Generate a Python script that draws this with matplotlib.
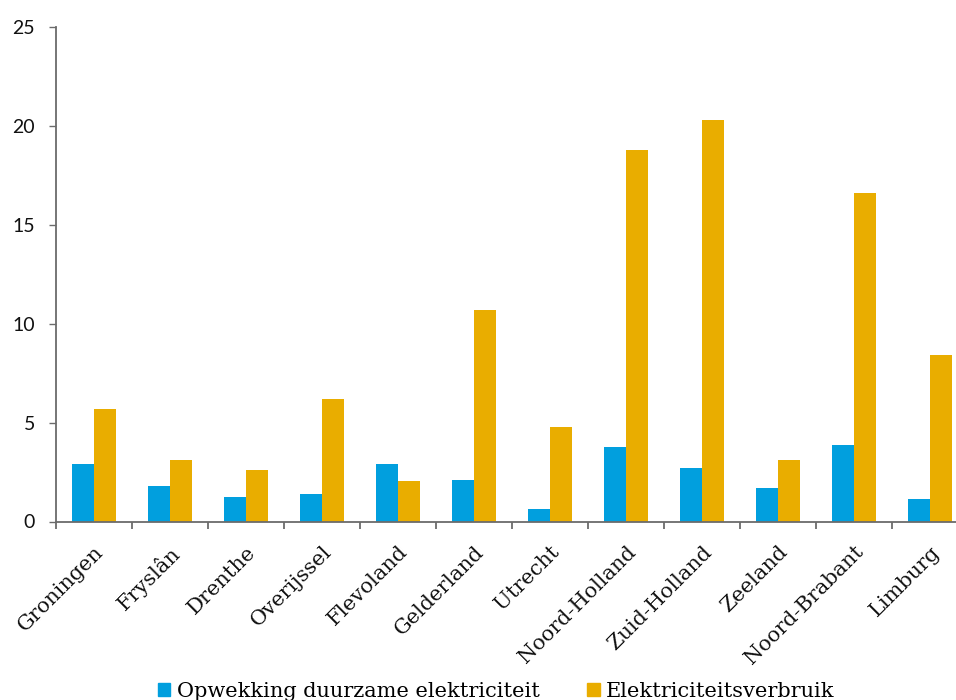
import matplotlib
matplotlib.use('Agg')
import matplotlib.pyplot as plt
from matplotlib.patches import Patch
import numpy as np

provinces = ['Groningen', 'Fryslân', 'Drenthe', 'Overijssel', 'Flevoland',
             'Gelderland', 'Utrecht', 'Noord-Holland', 'Zuid-Holland',
             'Zeeland', 'Noord-Brabant', 'Limburg']
opwekking = [2.9, 1.8, 1.25, 1.4, 2.9, 2.1, 0.65, 3.75, 2.7, 1.7, 3.85, 1.15]
verbruik = [5.7, 3.1, 2.6, 6.2, 2.05, 10.7, 4.8, 18.8, 20.3, 3.1, 16.6, 8.4]
series_labels = ['Opwekking duurzame elektriciteit', 'Elektriciteitsverbruik']

BLUE = '#019FDE'
YELLOW = '#E9AD00'
GREY = '#6b6b6b'

fig = plt.figure(figsize=(9.56, 7.0), dpi=100)
# right edge runs past the canvas, as the last group is cut off
ax = fig.add_axes([56/956, 1 - 521.5/700, 912/956, 494.5/700])

x = np.arange(len(provinces))
w = 0.29
ax.bar(x - w/2, opwekking, w, color=BLUE)
ax.bar(x + w/2, verbruik, w, color=YELLOW)

ax.set_xlim(-0.5, len(provinces) - 0.5)
ax.set_ylim(0, 25)
ax.set_yticks([0, 5, 10, 15, 20, 25])

for s in ['top', 'right']:
    ax.spines[s].set_visible(False)
for s in ['left', 'bottom']:
    ax.spines[s].set_color(GREY)
    ax.spines[s].set_linewidth(1.3)

ax.tick_params(axis='y', length=5, width=1, color=GREY, pad=10,
               labelsize=14, labelcolor='#111111')
for t in ax.get_yticklabels():
    t.set_family('Lato')

# ticks between groups, labels centred under each group
ax.set_xticks(np.arange(len(provinces) + 1) - 0.5)
ax.set_xticklabels([])
ax.tick_params(axis='x', length=5, width=1.3, color=GREY)
ax.set_xticks(x, minor=True)
ax.set_xticklabels(provinces, minor=True, rotation=45, ha='right',
                   va='top', rotation_mode='anchor',
                   family='DejaVu Serif', fontsize=15, color='#111111')
ax.tick_params(axis='x', which='minor', length=0, pad=15)

handles = [Patch(color=BLUE), Patch(color=YELLOW)]
fig.legend(handles, series_labels, loc='lower center',
           bbox_to_anchor=(0.519, -0.028), ncol=2, frameon=False,
           prop={'family': 'DejaVu Serif', 'size': 15},
           handlelength=0.6, handleheight=0.6, handletextpad=0.3,
           columnspacing=2.3)

fig.savefig('out.png', dpi=100)
